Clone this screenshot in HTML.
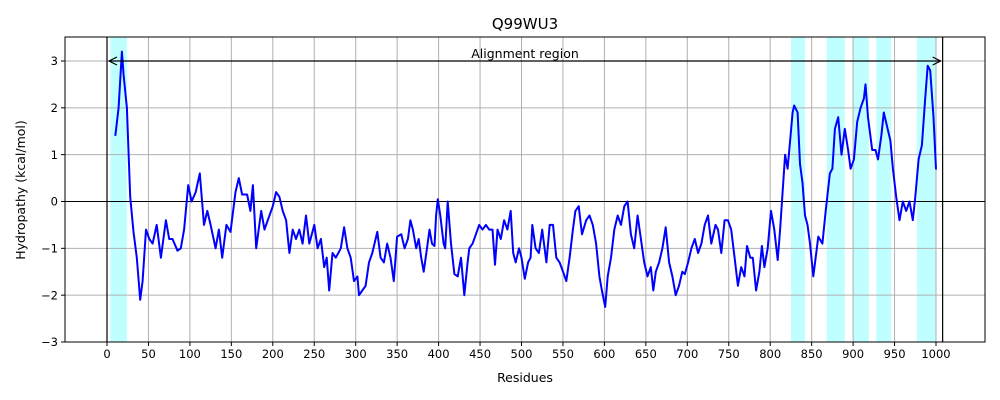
<!DOCTYPE html>
<html><head><meta charset="utf-8"><style>
body{margin:0;background:#fff;}
svg{display:block;font-family:"DejaVu Sans","Liberation Sans",sans-serif;}
</style></head><body>
<svg id="chart" width="1000" height="400" viewBox="0 0 1000 400" xmlns="http://www.w3.org/2000/svg">
<rect width="1000" height="400" fill="#fff"/>
<g id="bands"></g>
<g id="grid"></g>
<g id="series"></g>
<g id="axes"></g>
<text x="525" y="29" font-size="15" text-anchor="middle">Q99WU3</text>
<text x="525" y="382" font-size="12.5" text-anchor="middle">Residues</text>
<text x="0" y="0" font-size="12.5" text-anchor="middle" transform="translate(25,190) rotate(-90)">Hydropathy (kcal/mol)</text>
</svg>
<script>
const residues=[10,14,18,20,24,28,32,36,40,43,47,51,55,60,65,71,75,79,85,89,93,98,102,107,112,117,121,125,131,135,139,144,149,155,159,163,169,173,176,180,186,190,194,200,204,208,212,216,220,224,228,232,236,240,244,250,254,258,262,265,268,272,276,282,286,290,294,298,302,304,308,312,316,320,326,330,334,338,342,346,350,355,359,363,366,369,373,376,379,382,386,389,392,395,397,399,402,406,408,411,415,419,423,427,431,435,437,441,445,449,453,457,461,465,468,471,475,479,483,487,490,493,497,500,504,508,511,513,517,521,525,530,534,538,542,546,550,554,558,562,565,569,573,578,582,586,590,594,597,601,604,608,612,616,620,624,628,632,636,640,644,648,652,656,659,662,666,670,674,678,682,686,690,694,697,701,705,709,713,717,721,725,729,734,737,741,745,749,753,757,761,765,769,772,776,779,783,787,790,793,797,801,805,809,812,815,818,821,823,827,829,833,836,839,842,845,848,852,858,863,867,872,875,878,882,886,890,894,897,901,905,909,913,915,918,923,927,930,934,937,941,945,948,952,956,960,964,968,972,975,979,983,987,990,993,997,1000,1001];
const values=[1.4,2.0,3.2,2.7,2.0,0.1,-0.65,-1.2,-2.1,-1.7,-0.6,-0.8,-0.9,-0.5,-1.2,-0.4,-0.8,-0.8,-1.05,-1.0,-0.6,0.35,0.0,0.2,0.6,-0.5,-0.2,-0.5,-1.0,-0.6,-1.2,-0.5,-0.65,0.2,0.5,0.15,0.15,-0.2,0.35,-1.0,-0.2,-0.6,-0.4,-0.1,0.2,0.1,-0.2,-0.4,-1.1,-0.6,-0.8,-0.6,-0.9,-0.3,-0.9,-0.5,-1.0,-0.8,-1.4,-1.2,-1.9,-1.1,-1.2,-1.0,-0.55,-1.0,-1.2,-1.7,-1.6,-2.0,-1.9,-1.8,-1.3,-1.1,-0.65,-1.2,-1.3,-0.9,-1.2,-1.7,-0.75,-0.7,-1.0,-0.8,-0.4,-0.6,-1.0,-0.8,-1.2,-1.5,-1.0,-0.6,-0.9,-0.95,-0.3,0.05,-0.3,-0.9,-1.0,0.0,-0.9,-1.55,-1.6,-1.2,-2.0,-1.3,-1.0,-0.9,-0.7,-0.5,-0.6,-0.5,-0.6,-0.6,-1.35,-0.6,-0.8,-0.4,-0.6,-0.2,-1.1,-1.3,-1.0,-1.2,-1.65,-1.3,-1.2,-0.5,-1.0,-1.1,-0.6,-1.3,-0.5,-0.5,-1.2,-1.3,-1.5,-1.7,-1.2,-0.6,-0.2,-0.1,-0.7,-0.4,-0.3,-0.5,-0.9,-1.6,-1.9,-2.25,-1.6,-1.2,-0.6,-0.3,-0.5,-0.1,0.0,-0.7,-1.0,-0.3,-0.8,-1.3,-1.6,-1.4,-1.9,-1.5,-1.3,-1.0,-0.55,-1.3,-1.6,-2.0,-1.8,-1.5,-1.55,-1.3,-1.0,-0.8,-1.1,-0.9,-0.5,-0.3,-0.9,-0.5,-0.6,-1.1,-0.4,-0.4,-0.6,-1.2,-1.8,-1.4,-1.6,-0.95,-1.2,-1.2,-1.9,-1.5,-0.95,-1.4,-1.0,-0.2,-0.6,-1.25,-0.6,0.2,1.0,0.7,1.1,1.9,2.05,1.9,0.8,0.4,-0.3,-0.5,-0.9,-1.6,-0.75,-0.9,-0.2,0.6,0.7,1.55,1.8,1.0,1.55,1.1,0.7,0.9,1.7,2.0,2.2,2.5,1.8,1.1,1.1,0.9,1.4,1.9,1.6,1.3,0.7,0.1,-0.4,0.0,-0.2,0.0,-0.4,0.1,0.9,1.2,2.2,2.9,2.8,1.8,0.7,0.7];
const bandStarts=[4,825,868,900,928,977];
const bandEnds=[24,842,890,919,946,1000];
const xTicks=[0,50,100,150,200,250,300,350,400,450,500,550,600,650,700,750,800,850,900,950,1000];
const yTicks=[-3,-2,-1,0,1,2,3];

const L=65,R=985,T=37,B=342;
const X0=107,XS=0.829;
const sx=r=>X0+r*XS;
const sy=v=>201.5-v*46.83;
const NS='http://www.w3.org/2000/svg';
function mk(tag,attrs,parent){const e=document.createElementNS(NS,tag);for(const k in attrs)e.setAttribute(k,attrs[k]);parent.appendChild(e);return e;}
const bands=document.getElementById('bands'),grid=document.getElementById('grid'),series=document.getElementById('series'),axes=document.getElementById('axes');

for(let i=0;i<bandStarts.length;i++){
  const r=mk('rect',{x:sx(bandStarts[i]),y:T,width:sx(bandEnds[i])-sx(bandStarts[i]),height:B-T,fill:'#c0ffff'},bands);
  
  
}
xTicks.forEach(t=>{
  const x=sx(t);
  const g=mk('line',{x1:x,x2:x,y1:T,y2:B,stroke:'#b0b0b0','stroke-width':1},grid);
  
  
  mk('line',{x1:x,x2:x,y1:B,y2:B+4,stroke:'#000'},axes);
  const tx=mk('text',{x:x,y:B+16,'font-size':11.5,'text-anchor':'middle'},axes);
  tx.textContent=t;
  
  
});
yTicks.forEach(t=>{
  const y=sy(t);
  const g=mk('line',{x1:L,x2:R,y1:y,y2:y,stroke:'#b0b0b0','stroke-width':1},grid);
  
  
  mk('line',{x1:L-4,x2:L,y1:y,y2:y,stroke:'#000'},axes);
  const tx=mk('text',{x:L-7,y:y+4.2,'font-size':11.5,'text-anchor':'end'},axes);
  tx.textContent=t<0?'\u2212'+(-t):t;
  
  
});
const zl=mk('line',{x1:L,x2:R,y1:sy(0),y2:sy(0),stroke:'#000','stroke-width':1},grid);


[0,1008].forEach(r=>{
  const v=mk('line',{x1:sx(r),x2:sx(r),y1:T,y2:B,stroke:'#000','stroke-width':1.2},grid);
  
  
});
const ay=sy(3);
const arr=mk('line',{x1:sx(0)+2,x2:sx(1008)-2,y1:ay,y2:ay,stroke:'#000','stroke-width':1.2},axes);


mk('path',{d:`M${sx(0)+10},${ay-4} L${sx(0)+2},${ay} L${sx(0)+10},${ay+4}`,fill:'none',stroke:'#000','stroke-width':1.2},axes);
mk('path',{d:`M${sx(1008)-10},${ay-4} L${sx(1008)-2},${ay} L${sx(1008)-10},${ay+4}`,fill:'none',stroke:'#000','stroke-width':1.2},axes);
const lab=mk('text',{x:525,y:ay-3,'font-size':12.5,'text-anchor':'middle'},axes);
lab.textContent='Alignment region';



const d=residues.map((r,i)=>(i?'L':'M')+sx(r).toFixed(1)+','+sy(values[i]).toFixed(1)).join(' ');
const line=mk('path',{d:d,fill:'none',stroke:'#0000ff','stroke-width':2,'stroke-linejoin':'round'},series);



const fr=mk('rect',{x:L,y:T,width:R-L,height:B-T,fill:'none',stroke:'#000','stroke-width':1},axes);


</script>
</body></html>
